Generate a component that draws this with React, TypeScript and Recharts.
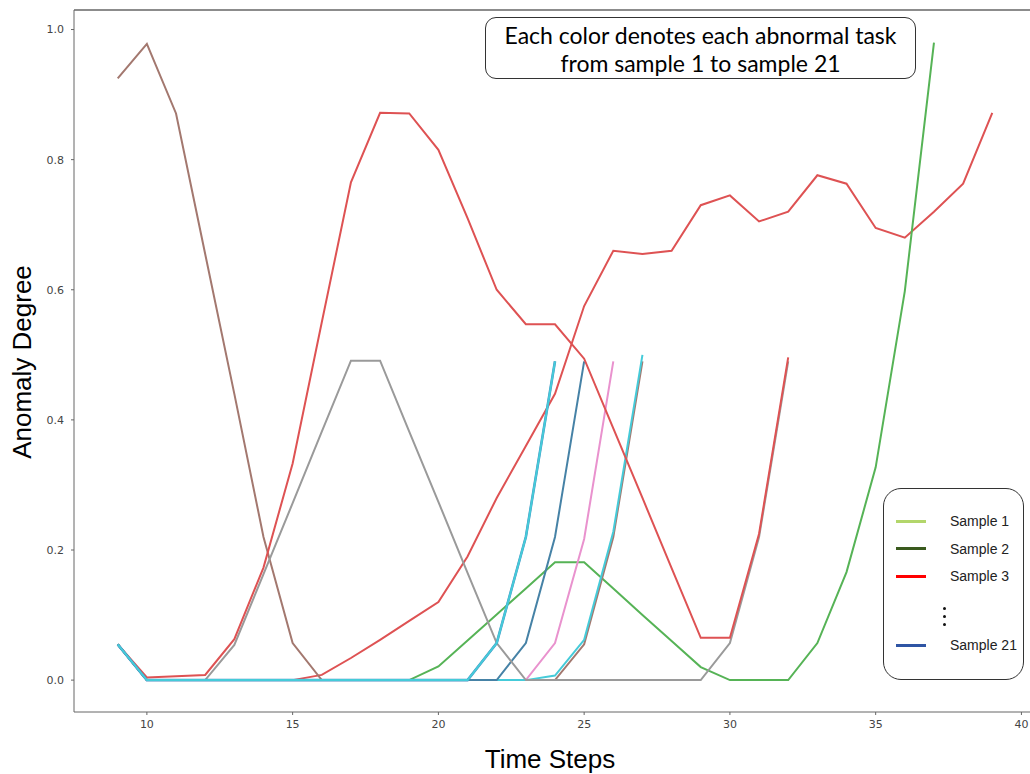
import { LineChart, Line, XAxis, YAxis, ReferenceLine } from 'recharts';

// time steps shared by every sample (x axis)
const steps = [9, 10, 11, 12, 13, 14, 15, 16, 17, 18, 19, 20, 21, 22, 23, 24, 25, 26, 27, 28, 29, 30, 31, 32, 33, 34, 35, 36, 37, 38, 39];

const xTicks = [10, 15, 20, 25, 30, 35, 40];
const yTicks = [0, 0.2, 0.4, 0.6, 0.8, 1.0];

// every series starts at step 9, shorter arrays simply end earlier
const redLate = [0.055, 0, 0, 0, 0, 0, 0, 0.008, 0.034, 0.062, 0.091, 0.12, 0.19, 0.28, 0.36, 0.44, 0.575, 0.66, 0.655, 0.66, 0.73, 0.745, 0.705, 0.72, 0.776, 0.763, 0.695, 0.68, 0.72, 0.763, 0.872];
const greenTent = [0.055, 0, 0, 0, 0, 0, 0, 0, 0, 0, 0, 0.021, 0.061, 0.101, 0.141, 0.181, 0.181, 0.141, 0.1, 0.06, 0.02, 0, 0, 0, 0.057, 0.166, 0.327, 0.598, 0.98];
const brownEarly = [0.925, 0.978, 0.871, 0.655, 0.44, 0.22, 0.057, 0, 0, 0, 0, 0, 0, 0, 0, 0, 0.055, 0.22, 0.49];
const pink = [0.055, 0, 0, 0, 0, 0, 0, 0, 0, 0, 0, 0, 0, 0, 0, 0.057, 0.217, 0.49];
const cyanLate = [0.055, 0, 0, 0, 0, 0, 0, 0, 0, 0, 0, 0, 0, 0, 0, 0.007, 0.062, 0.228, 0.5];
const steel = [0.055, 0, 0, 0, 0, 0, 0, 0, 0, 0, 0, 0, 0, 0, 0.057, 0.22, 0.49];
const grayPeak = [0.055, 0, 0, 0, 0.054, 0.163, 0.272, 0.382, 0.491, 0.491, 0.382, 0.274, 0.165, 0.057, 0, 0, 0, 0, 0, 0, 0, 0.057, 0.22, 0.49];
const redPeak = [0.055, 0.004, 0.006, 0.008, 0.063, 0.173, 0.333, 0.55, 0.765, 0.872, 0.871, 0.815, 0.71, 0.6, 0.547, 0.547, 0.494, 0.387, 0.28, 0.172, 0.065, 0.065, 0.225, 0.496];
const blue = [0.055, 0, 0, 0, 0, 0, 0, 0, 0, 0, 0, 0, 0, 0.057, 0.22, 0.49];
const cyanEarly = [0.055, 0, 0, 0, 0, 0, 0, 0, 0, 0, 0, 0, 0, 0.057, 0.22, 0.49];

const seriesList = [
  { key: 'redLate', values: redLate, color: '#de5253', width: 2 },
  { key: 'greenTent', values: greenTent, color: '#56b356', width: 2 },
  { key: 'brownEarly', values: brownEarly, color: '#a3786f', width: 2 },
  { key: 'pink', values: pink, color: '#e992ce', width: 2 },
  { key: 'cyanLate', values: cyanLate, color: '#45cbd9', width: 2 },
  { key: 'steel', values: steel, color: '#4682a6', width: 2 },
  { key: 'grayPeak', values: grayPeak, color: '#9a9a9a', width: 2 },
  { key: 'redPeak', values: redPeak, color: '#de5253', width: 2 },
  { key: 'blue', values: blue, color: '#4a90c2', width: 2.6 },
  { key: 'cyanEarly', values: cyanEarly, color: '#45cbd9', width: 2 },
];

const legendItems = [
  { label: 'Sample 1', color: '#b3d66b' },
  { label: 'Sample 2', color: '#3a5a1e' },
  { label: 'Sample 3', color: '#ff0000' },
  { label: 'Sample 21', color: '#2f55a4' },
];

const data = steps.map((step, i) => {
  const row: Record<string, number | undefined> = { step };
  seriesList.forEach((s) => {
    row[s.key] = s.values[i];
  });
  return row;
});

const tickStyle = { fill: '#444', fontSize: 11, fontFamily: 'DejaVu Sans' };

export default function App() {
  return (
    <div
      style={{
        position: 'absolute',
        left: 0,
        top: 0,
        width: 1030,
        height: 774,
        overflow: 'hidden',
        background: '#fff',
      }}
    >
      <LineChart width={1036} height={774} data={data} margin={{ top: 10, right: 0, bottom: 0, left: 0 }}>
        <XAxis
          dataKey="step"
          type="number"
          domain={[7.5, 40.5]}
          ticks={xTicks}
          height={62}
          tick={tickStyle}
          tickSize={3}
          tickMargin={5}
          stroke="#666"
          allowDataOverflow
        />
        <YAxis
          type="number"
          domain={[-0.049, 1.03]}
          ticks={yTicks}
          width={74}
          tick={tickStyle}
          tickSize={3}
          tickMargin={7}
          tickFormatter={(v: number) => v.toFixed(1)}
          stroke="#666"
          allowDataOverflow
        />
        <ReferenceLine y={1.03} stroke="#666" strokeWidth={1.5} />
        {seriesList.map((s) => (
          <Line
            key={s.key}
            dataKey={s.key}
            stroke={s.color}
            strokeWidth={s.width}
            dot={false}
            activeDot={false}
            isAnimationActive={false}
          />
        ))}
      </LineChart>

      <div
        style={{
          position: 'absolute',
          left: 483,
          top: 744,
          width: 134,
          textAlign: 'center',
          fontFamily: 'Liberation Sans, Arial, sans-serif',
          fontSize: 26,
          lineHeight: '30px',
          whiteSpace: 'nowrap',
        }}
      >
        Time Steps
      </div>
      <div
        style={{
          position: 'absolute',
          left: 22,
          top: 362,
          transform: 'translate(-50%, -50%) rotate(-90deg)',
          fontFamily: 'Liberation Sans, Arial, sans-serif',
          fontSize: 26,
          lineHeight: '30px',
          whiteSpace: 'nowrap',
        }}
      >
        Anomaly Degree
      </div>

      <div
        style={{
          position: 'absolute',
          left: 485,
          top: 17,
          width: 431,
          height: 62,
          border: '1.5px solid #333',
          borderRadius: 11,
          background: '#fff',
          fontFamily: 'Lato, sans-serif',
          fontSize: 23,
          lineHeight: '28px',
          textAlign: 'center',
          paddingTop: 3,
          boxSizing: 'border-box',
          whiteSpace: 'nowrap',
        }}
      >
        <div>Each color denotes each abnormal task</div>
        <div>from sample 1 to sample 21</div>
      </div>

      <div
        style={{
          position: 'absolute',
          left: 883,
          top: 488,
          width: 141,
          height: 192,
          border: '1.5px solid #333',
          borderRadius: 18,
          background: '#fff',
          boxSizing: 'border-box',
          fontFamily: 'Liberation Sans, Arial, sans-serif',
          fontSize: 14,
          color: '#222',
        }}
      >
        {legendItems.map((item, i) => {
          const top = i < 3 ? 32 + i * 27.5 : 156;
          return (
            <div key={item.label} style={{ position: 'absolute', left: 0, top: top - 9, height: 18, width: 141 }}>
              <div style={{ position: 'absolute', left: 12, top: 7.5, width: 30, height: 3, background: item.color }} />
              <div style={{ position: 'absolute', left: 66, top: 0, lineHeight: '18px', whiteSpace: 'nowrap' }}>{item.label}</div>
            </div>
          );
        })}
        {[118, 126, 134].map((y) => (
          <div
            key={y}
            style={{ position: 'absolute', left: 59, top: y, width: 3, height: 3, borderRadius: 2, background: '#111' }}
          />
        ))}
      </div>
    </div>
  );
}
